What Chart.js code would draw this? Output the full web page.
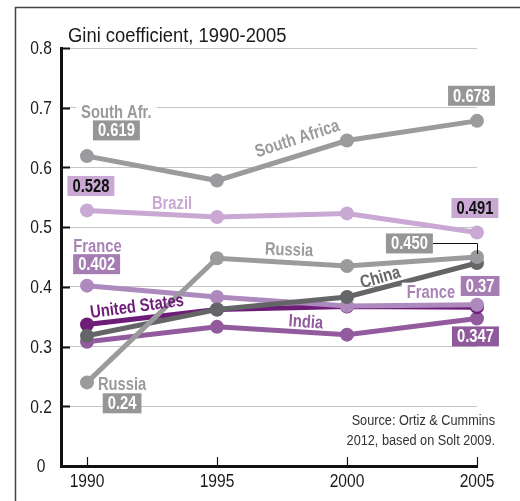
<!DOCTYPE html>
<html>
<head>
<meta charset="utf-8">
<title>Gini coefficient, 1990-2005</title>
<script src="https://cdn.jsdelivr.net/npm/chart.js@4"></script>
<style>
  html, body { margin: 0; padding: 0; background: #fff; }
  #wrap { width: 520px; height: 501px; }
</style>
</head>
<body>
<div id="wrap"><canvas id="giniChart" width="520" height="501"></canvas></div>
<script>
// Gini values by country, 1990-2005
const years = [1990, 1995, 2000, 2005];
const southAfrica = [0.619, 0.578, 0.645, 0.678];
const brazil = [0.528, 0.517, 0.523, 0.491];
const russia = [0.24, 0.448, 0.435, 0.450];
const china = [0.318, 0.362, 0.383, 0.44];
const france = [0.402, 0.383, 0.368, 0.37];
const unitedStates = [0.337, 0.362, 0.367, 0.366];
const india = [0.308, 0.333, 0.32, 0.347];

// broken axis: the bottom tick (0.1) is printed as "0"
const yTickValues = [0.1, 0.2, 0.3, 0.4, 0.5, 0.6, 0.7, 0.8];
const yTickLabels = ["0", "0.2", "0.3", "0.4", "0.5", "0.6", "0.7", "0.8"];
const xTickLabels = ["1990", "1995", "2000", "2005"];

const FONT = '"Liberation Sans", Arial, sans-serif';
const NARROW = 0.82; // horizontal squeeze for a condensed look

const GRAY = "#9b9b9e";
const DARK_GRAY = "#646567";
const LILAC = "#c9a9d3";
const FRANCE_PURPLE = "#ae89bd";
const US_PURPLE = "#6d1c78";
const INDIA_PURPLE = "#915b9e";

// first entry is drawn on top
const series = [
    { name: "Russia", values: russia, color: GRAY },
    { name: "South Africa", values: southAfrica, color: GRAY },
    { name: "China", values: china, color: DARK_GRAY },
    { name: "France", values: france, color: FRANCE_PURPLE },
    { name: "United States", values: unitedStates, color: US_PURPLE },
    { name: "India", values: india, color: INDIA_PURPLE },
    { name: "Brazil", values: brazil, color: LILAC }
];

// country names written next to the lines (x in years, y in Gini units)
const nameLabels = [
    { text: "South Afr.", x: 1991.13, y: 0.693, color: GRAY, knockout: true },
    { text: "South Africa", x: 1998.08, y: 0.649, color: GRAY, angle: -18 },
    { text: "Brazil", x: 1993.27, y: 0.5405, color: LILAC },
    { text: "Russia", x: 1997.77, y: 0.4626, color: GRAY, angle: 2 },
    { text: "China", x: 2001.27, y: 0.4166, color: DARK_GRAY, angle: -16 },
    { text: "France", x: 1990.4, y: 0.4685, color: "#a884b6" },
    { text: "France", x: 2003.23, y: 0.392, color: "#a884b6", knockout: true },
    { text: "United States", x: 1991.92, y: 0.368, color: US_PURPLE, angle: -7.5 },
    { text: "India", x: 1998.42, y: 0.342, color: INDIA_PURPLE, angle: 4 },
    { text: "Russia", x: 1991.35, y: 0.237, color: GRAY }
];

// boxed value callouts, text taken from the series value
const valueBoxes = [
    { values: southAfrica, i: 0, digits: 3, x: 1991.13, y: 0.662, fill: "#969698", ink: "#fff" },
    { values: brazil, i: 0, digits: 3, x: 1990.15, y: 0.569, fill: LILAC, ink: "#111" },
    { values: france, i: 0, digits: 3, x: 1990.37, y: 0.438, fill: "#a57db3", ink: "#fff" },
    { values: russia, i: 0, digits: 2, x: 1991.35, y: 0.205, fill: "#969698", ink: "#fff" },
    { values: southAfrica, i: 3, digits: 3, x: 2004.79, y: 0.72, fill: "#969698", ink: "#fff" },
    { values: brazil, i: 3, digits: 3, x: 2004.92, y: 0.532, fill: LILAC, ink: "#111" },
    { values: russia, i: 3, digits: 3, x: 2002.4, y: 0.4727, fill: "#969698", ink: "#fff", leader: true },
    { values: france, i: 3, digits: 2, x: 2005.12, y: 0.4015, fill: "#a57db3", ink: "#fff" },
    { values: india, i: 3, digits: 3, x: 2004.94, y: 0.317, fill: "#8e5a9b", ink: "#fff" }
];

// draws text squeezed horizontally around (x, y)
function narrowText(ctx, text, x, y, align, squeeze) {
    ctx.save();
    ctx.translate(x, y);
    ctx.scale(squeeze || NARROW, 1);
    ctx.textAlign = align || "center";
    ctx.fillText(text, 0, 0);
    ctx.restore();
}

function narrowWidth(ctx, text) {
    return ctx.measureText(text).width * NARROW;
}

const giniDecor = {
    id: "giniDecor",
    beforeDraw(chart) {
        const ctx = chart.ctx;
        ctx.save();
        // outer frame, left and top
        ctx.strokeStyle = "#444";
        ctx.lineWidth = 1.5;
        ctx.beginPath();
        ctx.moveTo(15.5, 501);
        ctx.lineTo(15.5, 7.5);
        ctx.lineTo(520, 7.5);
        ctx.stroke();
        // title
        ctx.fillStyle = "#1a1a1a";
        ctx.font = "20px " + FONT;
        ctx.textBaseline = "alphabetic";
        narrowText(ctx, "Gini coefficient, 1990-2005", 68, 42, "left", 0.92);
        ctx.restore();
    },
    afterDraw(chart) {
        const ctx = chart.ctx;
        const xs = chart.scales.x;
        const ys = chart.scales.y;
        const area = chart.chartArea;
        ctx.save();

        // inward tick marks
        ctx.strokeStyle = "#111";
        ctx.lineWidth = 2;
        yTickValues.slice(1).forEach(v => {
            const py = Math.round(ys.getPixelForValue(v)) + 0.5;
            ctx.beginPath();
            ctx.moveTo(area.left, py);
            ctx.lineTo(area.left + 9, py);
            ctx.stroke();
        });
        ctx.lineWidth = 1.2;
        years.forEach(yr => {
            const px = Math.round(xs.getPixelForValue(yr)) + 0.5;
            ctx.beginPath();
            ctx.moveTo(px, area.bottom);
            ctx.lineTo(px, area.bottom - 9);
            ctx.stroke();
        });

        // axis labels
        ctx.font = "19px " + FONT;
        ctx.fillStyle = "#1a1a1a";
        ctx.textBaseline = "middle";
        yTickValues.forEach((v, i) => {
            narrowText(ctx, yTickLabels[i], area.left - 20, ys.getPixelForValue(v) + 1, "center");
        });
        years.forEach((yr, i) => {
            narrowText(ctx, xTickLabels[i], xs.getPixelForValue(yr), area.bottom + 16, "center");
        });

        // country names
        ctx.font = "bold 18px " + FONT;
        nameLabels.forEach(l => {
            const px = xs.getPixelForValue(l.x);
            const py = ys.getPixelForValue(l.y);
            ctx.save();
            ctx.translate(px, py);
            ctx.rotate((l.angle || 0) * Math.PI / 180);
            if (l.knockout) {
                const w = narrowWidth(ctx, l.text) + 10;
                ctx.fillStyle = "#fff";
                ctx.fillRect(-w / 2, -9, w, 18);
            }
            ctx.fillStyle = l.color;
            narrowText(ctx, l.text, 0, 1, "center");
            ctx.restore();
        });

        // value boxes
        valueBoxes.forEach(b => {
            const text = b.values[b.i].toFixed(b.digits);
            const cx = xs.getPixelForValue(b.x);
            const cy = ys.getPixelForValue(b.y);
            const w = narrowWidth(ctx, text) + 10;
            const h = 20;
            if (b.leader) {
                const px = Math.round(xs.getPixelForValue(years[b.i])) + 0.5;
                const py = ys.getPixelForValue(b.values[b.i]);
                ctx.strokeStyle = "#111";
                ctx.lineWidth = 1;
                ctx.beginPath();
                ctx.moveTo(cx + w / 2, Math.round(cy) + 0.5);
                ctx.lineTo(px, Math.round(cy) + 0.5);
                ctx.lineTo(px, py - 3);
                ctx.stroke();
            }
            ctx.fillStyle = b.fill;
            ctx.fillRect(cx - w / 2, cy - h / 2, w, h);
            ctx.fillStyle = b.ink;
            narrowText(ctx, text, cx, cy + 1, "center");
        });

        // source note
        ctx.font = "15.5px " + FONT;
        ctx.fillStyle = "#333";
        narrowText(ctx, "Source: Ortiz & Cummins", 495, 421, "right");
        narrowText(ctx, "2012, based on Solt 2009.", 495, 441, "right");
        ctx.restore();
    }
};

new Chart(document.getElementById("giniChart"), {
    type: "line",
    data: {
        datasets: series.map(s => ({
            label: s.name,
            data: years.map((yr, i) => ({ x: yr, y: s.values[i] })),
            borderColor: s.color,
            backgroundColor: s.color,
            borderWidth: 5,
            pointRadius: 7,
            pointBorderWidth: 0,
            pointBackgroundColor: s.color,
            tension: 0,
            clip: false
        }))
    },
    options: {
        responsive: false,
        animation: false,
        layout: { padding: { top: 48, right: 43, left: 0, bottom: 0 } },
        plugins: {
            legend: { display: false },
            tooltip: { enabled: false }
        },
        scales: {
            x: {
                type: "linear",
                min: 1989,
                max: 2005,
                afterBuildTicks: s => { s.ticks = years.map(v => ({ value: v })); },
                afterFit: s => { s.height = 35; },
                grid: { display: false },
                border: { display: true, color: "#111", width: 3 },
                ticks: { display: false }
            },
            y: {
                min: 0.1,
                max: 0.8,
                afterBuildTicks: s => { s.ticks = yTickValues.map(v => ({ value: v })); },
                afterFit: s => { s.width = 61; },
                grid: {
                    drawTicks: false,
                    lineWidth: 1,
                    color: c => (c.tick && c.tick.value <= 0.1001 ? "rgba(0,0,0,0)" : "#c4c4c4")
                },
                border: { display: true, color: "#111", width: 3 },
                ticks: { display: false }
            }
        }
    },
    plugins: [giniDecor]
});
</script>
</body>
</html>
